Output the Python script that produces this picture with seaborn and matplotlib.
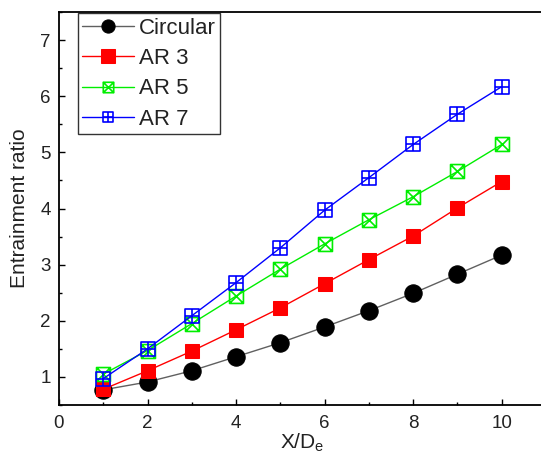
import numpy as np
import pandas as pd
import seaborn as sns
import matplotlib
matplotlib.use("Agg")
import matplotlib.pyplot as plt
from matplotlib.path import Path
from matplotlib.ticker import MultipleLocator

x_vals = [1, 2, 3, 4, 5, 6, 7, 8, 9, 10]
circular = [0.77, 0.91, 1.11, 1.36, 1.61, 1.89, 2.18, 2.49, 2.83, 3.17]
ar3 = [0.78, 1.11, 1.46, 1.84, 2.23, 2.66, 3.09, 3.51, 4.01, 4.48]
ar5 = [1.05, 1.47, 1.95, 2.44, 2.92, 3.37, 3.80, 4.21, 4.66, 5.14]
ar7 = [0.97, 1.50, 2.09, 2.68, 3.30, 3.97, 4.55, 5.14, 5.68, 6.17]
series_names = ["Circular", "AR 3", "AR 5", "AR 7"]

sns.set_theme(style="ticks")
plt.rcParams['font.family'] = ['Liberation Sans', 'DejaVu Sans']
plt.rcParams['mathtext.fontset'] = 'custom'
plt.rcParams['mathtext.rm'] = 'Liberation Sans'
plt.rcParams['mathtext.it'] = 'Liberation Sans'

box_x = Path([(-1, -1), (1, -1), (1, 1), (-1, 1), (-1, -1),
              (-1, -1), (1, 1), (-1, 1), (1, -1)],
             [Path.MOVETO, Path.LINETO, Path.LINETO, Path.LINETO, Path.CLOSEPOLY,
              Path.MOVETO, Path.LINETO, Path.MOVETO, Path.LINETO])
box_plus = Path([(-1, -1), (1, -1), (1, 1), (-1, 1), (-1, -1),
                 (0, -1), (0, 1), (-1, 0), (1, 0)],
                [Path.MOVETO, Path.LINETO, Path.LINETO, Path.LINETO, Path.CLOSEPOLY,
                 Path.MOVETO, Path.LINETO, Path.MOVETO, Path.LINETO])

fig = plt.figure(figsize=(5.41, 4.57), dpi=100)
ax = fig.add_axes([59 / 541, 1 - 405 / 457, 487 / 541, 393 / 457])

styles = {
    "Circular": dict(color="#606060", marker="o", markersize=12.5, markerfacecolor="black",
                     markeredgecolor="black"),
    "AR 3": dict(color="red", marker="s", markersize=10, markerfacecolor="red",
                 markeredgecolor="red"),
    "AR 5": dict(color="#00ee00", marker=box_x, markersize=10, markerfacecolor="none",
                 markeredgecolor="#00ee00", markeredgewidth=1.2),
    "AR 7": dict(color="blue", marker=box_plus, markersize=10, markerfacecolor="none",
                 markeredgecolor="blue", markeredgewidth=1.2),
}
legend_msize = {"Circular": 9.5, "AR 3": 9.5, "AR 5": 7.5, "AR 7": 7.5}
data = {"Circular": circular, "AR 3": ar3, "AR 5": ar5, "AR 7": ar7}

for name in series_names:
    df = pd.DataFrame({"x": x_vals, "y": data[name]})
    sns.lineplot(data=df, x="x", y="y", ax=ax, label=name, linewidth=1.0, **styles[name])

ax.set_xlim(0, 11)
ax.set_ylim(0.5, 7.5)
ax.xaxis.set_major_locator(MultipleLocator(2))
ax.xaxis.set_minor_locator(MultipleLocator(1))
ax.yaxis.set_major_locator(MultipleLocator(1))
ax.yaxis.set_minor_locator(MultipleLocator(0.5))
ax.tick_params(which="both", direction="in", colors="black", labelsize=13.5, width=1,
               labelcolor="#222222")
ax.tick_params(which="major", length=4)
ax.tick_params(which="minor", length=2.5)
ax.tick_params(axis="x", pad=7)
ax.tick_params(axis="y", pad=6)
for s in ax.spines.values():
    s.set_color("black")
    s.set_linewidth(1.3)

ax.set_xlabel("X/D$_\\mathregular{e}$", fontsize=15, color="#222222", labelpad=0)
ax.set_ylabel("Entrainment ratio", fontsize=15, color="#222222", labelpad=8)

leg = ax.legend(loc="upper left", bbox_to_anchor=(0.039, 0.997), borderaxespad=0,
                fontsize=16, frameon=True, fancybox=False, handlelength=2.3,
                handletextpad=0.25, labelspacing=0.42, borderpad=0.2)
leg.get_frame().set_edgecolor("black")
leg.get_frame().set_linewidth(1.0)
for h, name in zip(leg.legend_handles, series_names):
    h.set_markersize(legend_msize[name])
for t in leg.get_texts():
    t.set_color("#222222")

fig.savefig("out.png", dpi=100)
